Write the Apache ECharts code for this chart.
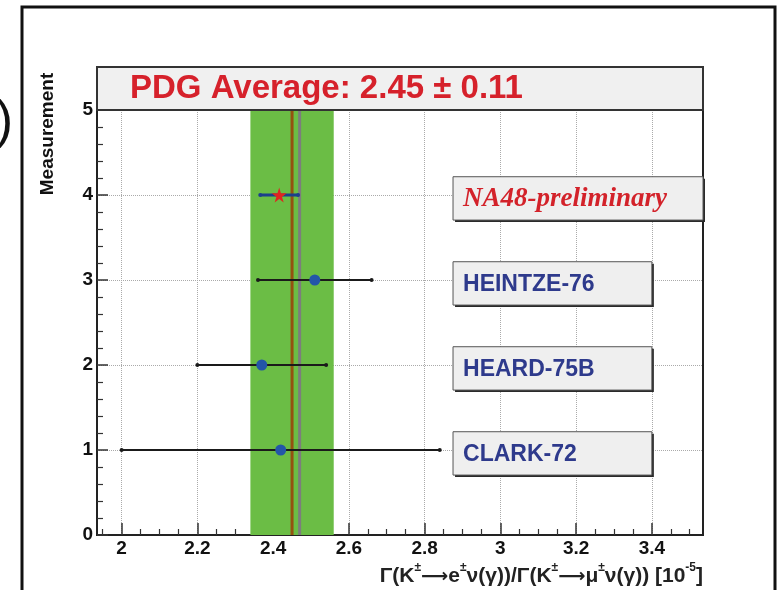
<!DOCTYPE html>
<html><head><meta charset="utf-8">
<script src="https://cdn.jsdelivr.net/npm/echarts@6/dist/echarts.min.js"></script>
<style>html,body{margin:0;padding:0;background:#fff}#c{width:780px;height:590px}</style>
</head><body><div id="c"></div>
<script>
// ---- data ----
const experiments = ['CLARK-72', 'HEARD-75B', 'HEINTZE-76', 'NA48-preliminary'];
const positions = [1, 2, 3, 4];
const values = [2.42, 2.37, 2.51, 2.416];
const errors = [0.42, 0.17, 0.15, 0.05];
const pdgAverage = 2.45;
const pdgError = 0.11;
const secondLine = 2.47;
const xTickLabels = [2, 2.2, 2.4, 2.6, 2.8, 3, 3.2, 3.4];
const yTickLabels = [0, 1, 2, 3, 4, 5];
const titleText = 'PDG Average: 2.45 ± 0.11';

const xMin = 1.935, xMax = 3.535;
const xMinor = [];
for (let k = 39; k <= 70; k++) { if (k % 4 !== 0) xMinor.push(+(k * 0.05).toFixed(2)); }

const chart = echarts.init(document.getElementById('c'), null, {renderer: 'canvas'});
const SANS = '"Liberation Sans", Arial, sans-serif';
const SERIF = '"Liberation Serif", "Times New Roman", serif';

const option = {
  backgroundColor: '#fff',
  animation: false,
  grid: {left: 97, right: 77, top: 110, bottom: 55, show: true, borderColor: '#222', borderWidth: 2, backgroundColor: 'transparent'},
  xAxis: [{
    type: 'value', min: xMin, max: xMax,
    axisLine: {show: true, onZero: false, lineStyle: {color: '#222', width: 2}},
    axisTick: {show: true, inside: true, length: 12, customValues: xTickLabels, lineStyle: {color: '#333', width: 1.5}},
    axisLabel: {show: true, customValues: xTickLabels, fontSize: 19, fontWeight: 'bold', color: '#111', fontFamily: SANS, margin: 4,
      formatter: v => String(+v.toFixed(1))},
    splitLine: {show: true, lineStyle: {type: 'dotted', color: '#aaa', width: 1}}
  }, {
    type: 'value', min: xMin, max: xMax, position: 'bottom',
    axisLine: {show: false},
    axisTick: {show: true, inside: true, length: 6, customValues: xMinor, lineStyle: {color: '#333', width: 1.2}},
    axisLabel: {show: false},
    splitLine: {show: false}
  }],
  yAxis: {
    type: 'value', min: 0, max: 5, interval: 1,
    axisLine: {show: true, onZero: false, lineStyle: {color: '#222', width: 2}},
    axisTick: {show: true, inside: true, length: 11, lineStyle: {color: '#333', width: 1.5}},
    minorTick: {show: true, splitNumber: 5, length: 6, lineStyle: {color: '#333', width: 1.2}},
    axisLabel: {fontSize: 19, fontWeight: 'bold', color: '#111', fontFamily: SANS, margin: 4},
    splitLine: {show: true, lineStyle: {type: 'dotted', color: '#aaa', width: 1}}
  },
  series: [
    { // PDG band + lines
      type: 'custom', z: 1, xAxisIndex: 0,
      data: [[pdgAverage, pdgError, secondLine]],
      renderItem: (params, api) => {
        const a = api.value(0), e = api.value(1), g = api.value(2);
        const p0 = api.coord([a - e, 5]), p1 = api.coord([a + e, 0]);
        const la = api.coord([a, 5]), lb = api.coord([a, 0]);
        const ga = api.coord([g, 5]), gb = api.coord([g, 0]);
        return {type: 'group', children: [
          {type: 'rect', shape: {x: p0[0], y: p0[1], width: p1[0] - p0[0], height: p1[1] - p0[1]}, style: {fill: '#6bbd45'}},
          {type: 'line', shape: {x1: ga[0], y1: ga[1], x2: gb[0], y2: gb[1]}, style: {stroke: '#7d7d7d', lineWidth: 3}},
          {type: 'line', shape: {x1: la[0], y1: la[1], x2: lb[0], y2: lb[1]}, style: {stroke: '#94520f', lineWidth: 3}}
        ]};
      }
    },
    { // error bars
      type: 'custom', z: 3, xAxisIndex: 0,
      data: positions.map((p, i) => [values[i], p, errors[i]]),
      encode: {x: 0, y: 1},
      renderItem: (params, api) => {
        const x = api.value(0), y = api.value(1), e = api.value(2);
        const a = api.coord([x - e, y]), b = api.coord([x + e, y]);
        const na = params.dataIndex === 3;
        const c = na ? '#1d3f8c' : '#1a1a1a';
        return {type: 'group', children: [
          {type: 'line', shape: {x1: a[0], y1: a[1], x2: b[0], y2: b[1]}, style: {stroke: c, lineWidth: na ? 3 : 2}},
          {type: 'circle', shape: {cx: a[0], cy: a[1], r: 2}, style: {fill: c}},
          {type: 'circle', shape: {cx: b[0], cy: b[1], r: 2}, style: {fill: c}}
        ]};
      }
    },
    { // markers
      type: 'scatter', z: 4, xAxisIndex: 0,
      data: positions.map((p, i) => i === 3 ? {
        value: [values[i], p],
        symbol: 'path://M50,0 L61,35 L98,35 L68,57 L79,91 L50,70 L21,91 L32,57 L2,35 L39,35 Z',
        symbolSize: 15, itemStyle: {color: '#e0261f'}
      } : {value: [values[i], p]}),
      symbol: 'circle', symbolSize: 11,
      itemStyle: {color: '#2356a8', opacity: 1}
    },
    { // label boxes
      type: 'custom', z: 5, xAxisIndex: 0,
      data: positions.map((p, i) => [p, i]),
      encode: {y: 0},
      clip: false,
      renderItem: (params, api) => {
        const y = api.value(0), i = api.value(1);
        const na = i === 3;
        const x0 = 2.875, x1 = na ? xMax : 3.40;
        const tl = api.coord([x0, y - 0.04 + 0.255]);
        const br = api.coord([x1, y - 0.04 - 0.255]);
        const w = br[0] - tl[0], h = br[1] - tl[1];
        return {type: 'group', children: [
          {type: 'rect', shape: {x: tl[0] + 2, y: tl[1] + 2, width: w, height: h}, style: {fill: '#2a2a2a'}},
          {type: 'rect', shape: {x: tl[0], y: tl[1], width: w, height: h}, style: {fill: '#efefef', stroke: '#555', lineWidth: 1}},
          {type: 'text', x: tl[0] + 10, y: tl[1] + h / 2 + 1, style: {
            text: experiments[i], verticalAlign: 'middle', align: 'left',
            font: na ? 'italic bold 27px ' + SERIF : 'bold 23px ' + SANS,
            fill: na ? '#d3222a' : '#2e3a8c'
          }}
        ]};
      }
    }
  ],
  graphic: [
    {type: 'rect', shape: {x: 22, y: 7, width: 753, height: 620}, style: {fill: 'none', stroke: '#111', lineWidth: 3}, z: 10},
    {type: 'text', x: 13, y: 123, style: {text: ')', font: '52px ' + SANS, fill: '#111', align: 'right', verticalAlign: 'middle'}, z: 10},
    {type: 'rect', shape: {x: 97, y: 67, width: 606, height: 43}, style: {fill: '#f0f0f0', stroke: '#333', lineWidth: 2}, z: 10},
    {type: 'text', x: 130, y: 89, style: {text: titleText, font: 'bold 33px ' + SANS, fill: '#d6212b', align: 'left', verticalAlign: 'middle'}, z: 11},
    {type: 'text', x: 48, y: 134, rotation: Math.PI / 2, style: {text: 'Measurement', font: 'bold 19px ' + SANS, fill: '#111', align: 'center', verticalAlign: 'middle'}, z: 10},
    {type: 'text', x: 703, y: 574, style: {
      text: '{n|Γ(K}{s|±}{a|⟶}{n|e}{s|±}{n|ν(γ))/Γ(K}{s|±}{a|⟶}{n|μ}{s|±}{n|ν(γ)) [10}{s|-5}{n|]}',
      rich: {
        n: {fontSize: 21, fontWeight: 'bold', fontFamily: SANS, fill: '#222', lineHeight: 25, verticalAlign: 'bottom'},
        a: {fontSize: 19, fontWeight: 'bold', fontFamily: '"DejaVu Sans", sans-serif', fill: '#222', lineHeight: 25, verticalAlign: 'bottom'},
        s: {fontSize: 12, fontWeight: 'bold', fontFamily: SANS, fill: '#222', lineHeight: 25, verticalAlign: 'top'}
      },
      align: 'right', verticalAlign: 'middle'
    }, z: 10}
  ]
};
chart.setOption(option);
</script>
</body></html>
